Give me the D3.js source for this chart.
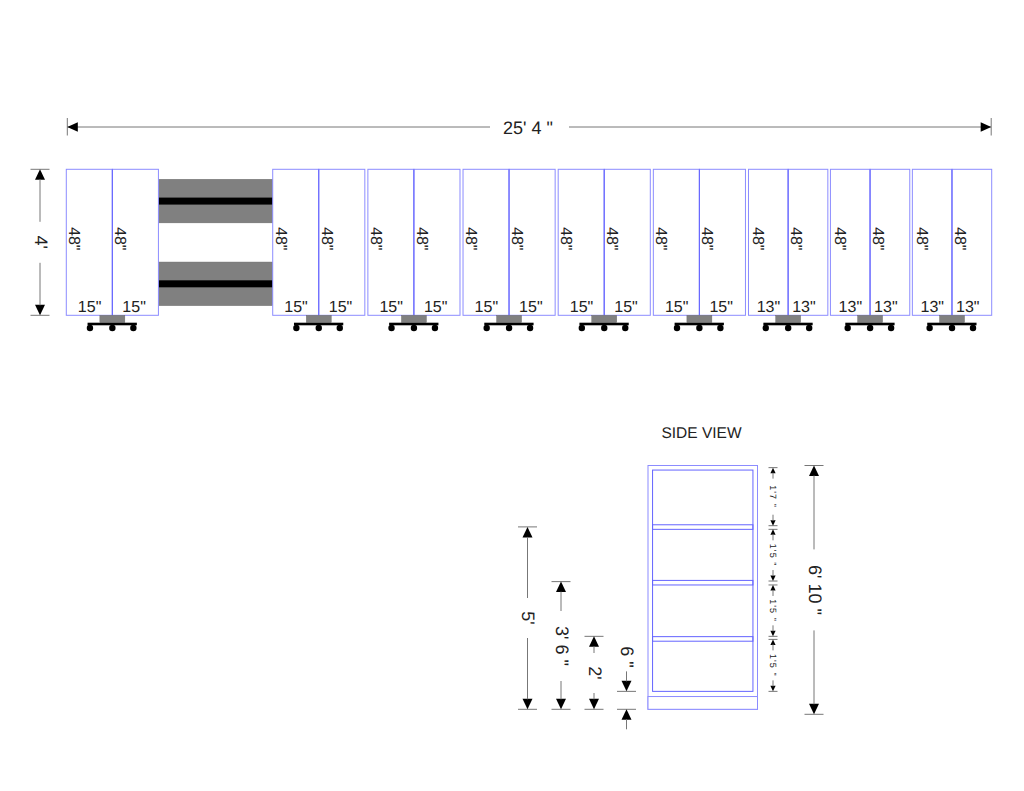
<!DOCTYPE html>
<html>

<head>
    <title>Shelving layout</title>
    <script src="https://d3js.org/d3.v7.min.js"></script>
    <style>
        body {
            margin: 0;
            background: #fff;
            font-family: "Liberation Sans", Arial, sans-serif;
        }

        text {
            fill: #222;
            text-rendering: geometricPrecision;
        }

        .dim {
            stroke: #777;
            stroke-width: 1;
        }

        .panel {
            fill: #fff;
            stroke: #8c8cff;
            stroke-width: 1;
        }

        .strong {
            fill: none;
            stroke: #6464ff;
            stroke-width: 1;
        }
    </style>
</head>

<body>
    <div id="drawing"></div>

    <script>
        // all measures in inches
        const unitDepths = [15.15, 15.15, 15.15, 15.15, 15.15, 15.15, 13.05, 13.05, 13.05];
        const unitLabels = ['15"', '15"', '15"', '15"', '15"', '15"', '13"', '13"', '13"'];
        const unitGaps = [37.6, 1, 1, 1, 1, 1, 0.85, 0.85];
        const unitHeight = 48;
        const heightLabel = '48"';
        const overallLength = 304.4;

        const beamTops = [3.3, 30.5];
        const beamHeight = 14.3;
        const bandHeight = 2.3;

        const sideWidth = 36;
        const sideHeight = 80.2;
        const sideInset = 1.5;
        const sideInnerBottom = 5.9;
        const sideInnerTop = 78.7;
        const sideBaseTop = 4.2;
        const shelfBottoms = [22.4, 40.9, 59.2];
        const shelfThickness = 1.5;

        const levelHeights = [60, 42, 24];
        const levelLabels = ["5'", "3' 6 \"", "2'"];
        const clearLows = [5.9, 24, 42.2, 60.4];
        const clearHighs = [23, 40.9, 59.2, 79.5];
        const clearLabels = ["1'5 \"", "1'5 \"", "1'5 \"", "1'7 \""];

        const svg = d3.select("#drawing")
            .append("svg")
            .attr("width", 1024)
            .attr("height", 791);

        const x = d3.scaleLinear().domain([0, overallLength]).range([66.3, 991.7]);
        const y = d3.scaleLinear().domain([0, unitHeight]).range([169.3, 315.3]);
        const sideX = d3.scaleLinear().domain([0, sideWidth]).range([648, 757.5]);
        const sideY = d3.scaleLinear().domain([0, sideHeight]).range([709.3, 465.5]);

        // left edge of each double unit
        let run = 0;
        const units = unitDepths.map((depth, i) => {
            const u = { left: run, depth: depth, label: unitLabels[i], narrow: depth < 14 };
            run += depth * 2 + (unitGaps[i] || 0);
            return u;
        });

        function verticalText(px, py, label, size, anchor) {
            return svg.append("text")
                .attr("transform", `translate(${px},${py}) rotate(90)`)
                .attr("text-anchor", anchor || "middle")
                .attr("dy", anchor ? 0 : "0.35em")
                .style("font-size", size + "px")
                .text(label);
        }

        function dimLine(x1, y1, x2, y2) {
            svg.append("line").attr("class", "dim")
                .attr("x1", x1).attr("y1", y1).attr("x2", x2).attr("y2", y2);
        }

        // dir is the way the arrow points, as [dx, dy]
        function arrow(px, py, dir, len, half) {
            const [dx, dy] = dir;
            const pts = [
                [px, py],
                [px - dx * len - dy * half, py - dy * len - dx * half],
                [px - dx * len + dy * half, py - dy * len + dx * half]
            ];
            svg.append("polygon")
                .attr("points", pts.join(" "))
                .attr("fill", "#000");
        }

        // vertical dimension with the label sitting in a break of the line
        function verticalDim(px, top, bottom, label, gap, center) {
            const mid = center === undefined ? (top + bottom) / 2 : center;
            dimLine(px - 9.5, top, px + 9.5, top);
            dimLine(px - 9.5, bottom, px + 9.5, bottom);
            arrow(px, top, [0, -1], 10.5, 5);
            arrow(px, bottom, [0, 1], 10.5, 5);
            dimLine(px, top + 10, px, mid - gap);
            dimLine(px, mid + gap, px, bottom - 10);
            verticalText(px + 1, mid, label, 18);
        }

        // plan view: overall length
        dimLine(x(0) + 1, 127, 490, 127);
        dimLine(569, 127, x(overallLength) - 1, 127);
        dimLine(x(0) + 1, 118, x(0) + 1, 135.5);
        dimLine(x(overallLength) - 0.5, 118, x(overallLength) - 0.5, 135.5);
        arrow(x(0) + 1, 127, [-1, 0], 10.5, 4.7);
        arrow(x(overallLength) - 0.5, 127, [1, 0], 10.5, 4.7);
        svg.append("text")
            .attr("x", 528)
            .attr("y", 133.5)
            .attr("text-anchor", "middle")
            .style("font-size", "18px")
            .text("25' 4 \"");

        verticalDim(40, y(0), y(unitHeight), "4'", 20.5);

        // connecting beams between the first two units
        const beamLeft = units[0].left + units[0].depth * 2;
        const beamRight = units[1].left;
        beamTops.forEach(top => {
            svg.append("rect")
                .attr("x", x(beamLeft))
                .attr("y", y(top))
                .attr("width", x(beamRight) - x(beamLeft))
                .attr("height", y(top + beamHeight) - y(top))
                .attr("fill", "#808080")
                .attr("stroke", "#666")
                .attr("stroke-width", 0.5);
            svg.append("rect")
                .attr("x", x(beamLeft))
                .attr("y", y(top + (beamHeight - bandHeight) / 2))
                .attr("width", x(beamRight) - x(beamLeft))
                .attr("height", y(bandHeight) - y(0))
                .attr("fill", "#000");
        });

        const unitG = svg.selectAll("g.unit")
            .data(units)
            .join("g")
            .attr("class", "unit");

        // the two panels of a unit
        unitG.selectAll("rect.panel")
            .data(d => [d.left, d.left + d.depth].map(left => ({ left: left, depth: d.depth })))
            .join("rect")
            .attr("class", "panel")
            .attr("x", d => x(d.left))
            .attr("y", y(0))
            .attr("width", d => x(d.left + d.depth) - x(d.left))
            .attr("height", y(unitHeight) - y(0));

        // divider, base, bar and wheels
        unitG.each(function (d) {
            const g = d3.select(this);
            const cx = x(d.left + d.depth);
            const foot = y(unitHeight);
            g.append("line")
                .attr("class", "strong")
                .attr("x1", cx).attr("y1", y(0))
                .attr("x2", cx).attr("y2", foot);
            g.append("rect")
                .attr("x", cx - 12.5)
                .attr("y", foot)
                .attr("width", 25)
                .attr("height", 7.2)
                .attr("fill", "#808080")
                .attr("stroke", "#666")
                .attr("stroke-width", 0.4);
            g.append("rect")
                .attr("x", cx - 24.8)
                .attr("y", foot + 7.4)
                .attr("width", 49.3)
                .attr("height", 2.6)
                .attr("fill", "#000");
            [-22.4, 0, 21].forEach(off => {
                g.append("circle")
                    .attr("cx", cx + off)
                    .attr("cy", foot + 12.7)
                    .attr("r", 3.2)
                    .attr("fill", "#000");
            });

            // depth labels either side of the divider
            g.append("text")
                .attr("x", cx - (d.narrow ? 8 : 11))
                .attr("y", 312)
                .attr("text-anchor", "end")
                .style("font-size", "16px")
                .text(d.label);
            g.append("text")
                .attr("x", cx + (d.narrow ? 4 : 10))
                .attr("y", 312)
                .style("font-size", "16px")
                .text(d.label);

            // height labels run down the panels
            const first = x(d.left) + (d.narrow ? 5 : 2.8);
            verticalText(first, 227, heightLabel, 16, "start");
            verticalText(cx + 2.9, 227, heightLabel, 16, "start");
        });

        // side view
        svg.append("text")
            .attr("x", 701.5)
            .attr("y", 437.5)
            .attr("text-anchor", "middle")
            .style("font-size", "15.5px")
            .text("SIDE VIEW");

        function sideRect(x0, x1, low, high, cls) {
            svg.append("rect")
                .attr("class", cls)
                .attr("x", sideX(x0))
                .attr("y", sideY(high))
                .attr("width", sideX(x1) - sideX(x0))
                .attr("height", sideY(low) - sideY(high));
        }

        sideRect(0, sideWidth, 0, sideHeight, "panel");
        sideRect(0, sideWidth, 0, sideBaseTop, "panel");
        sideRect(sideInset, sideWidth - sideInset, sideInnerBottom, sideInnerTop, "strong");
        shelfBottoms.forEach(b => {
            sideRect(sideInset, sideWidth - sideInset, b, b + shelfThickness, "strong");
        });

        // heights from the floor, left of the side view
        const levelX = [527.5, 561, 594];
        const levelGaps = [20, 35, 20];
        const levelCentres = [618, 646, 673];
        levelHeights.forEach((h, i) => {
            verticalDim(levelX[i], sideY(h), sideY(0), levelLabels[i], levelGaps[i], levelCentres[i]);
        });

        // 6" plinth, arrows from outside
        const plinthX = 626.5;
        const plinthTop = sideY(sideInnerBottom);
        const plinthBottom = sideY(0);
        dimLine(plinthX - 9.5, plinthTop, plinthX + 9.5, plinthTop);
        dimLine(plinthX - 9.5, plinthBottom, plinthX + 9.5, plinthBottom);
        arrow(plinthX, plinthTop, [0, 1], 10.5, 5);
        arrow(plinthX, plinthBottom, [0, -1], 10.5, 5);
        dimLine(plinthX, plinthTop - 20, plinthX, plinthTop - 10);
        dimLine(plinthX, plinthBottom + 10, plinthX, plinthBottom + 20);
        verticalText(plinthX + 1, 657, "6 \"", 18);

        // clear openings, right of the side view
        const clearX = 773;
        clearLows.forEach((low, i) => {
            const bottom = sideY(low);
            const top = sideY(clearHighs[i]);
            dimLine(clearX - 4.5, top, clearX + 4.5, top);
            dimLine(clearX - 4.5, bottom, clearX + 4.5, bottom);
            arrow(clearX, top, [0, -1], 5.5, 2.6);
            arrow(clearX, bottom, [0, 1], 5.5, 2.6);
            dimLine(clearX, top + 5, clearX, top + 11);
            dimLine(clearX, bottom - 11, clearX, bottom - 5);
            verticalText(clearX, (top + bottom) / 2, clearLabels[i], 9)
                .style("letter-spacing", "1.1px");
        });

        // overall height
        verticalDim(814, sideY(sideHeight), 714.3, "6' 10 \"", 40.5);
    </script>
</body>

</html>
